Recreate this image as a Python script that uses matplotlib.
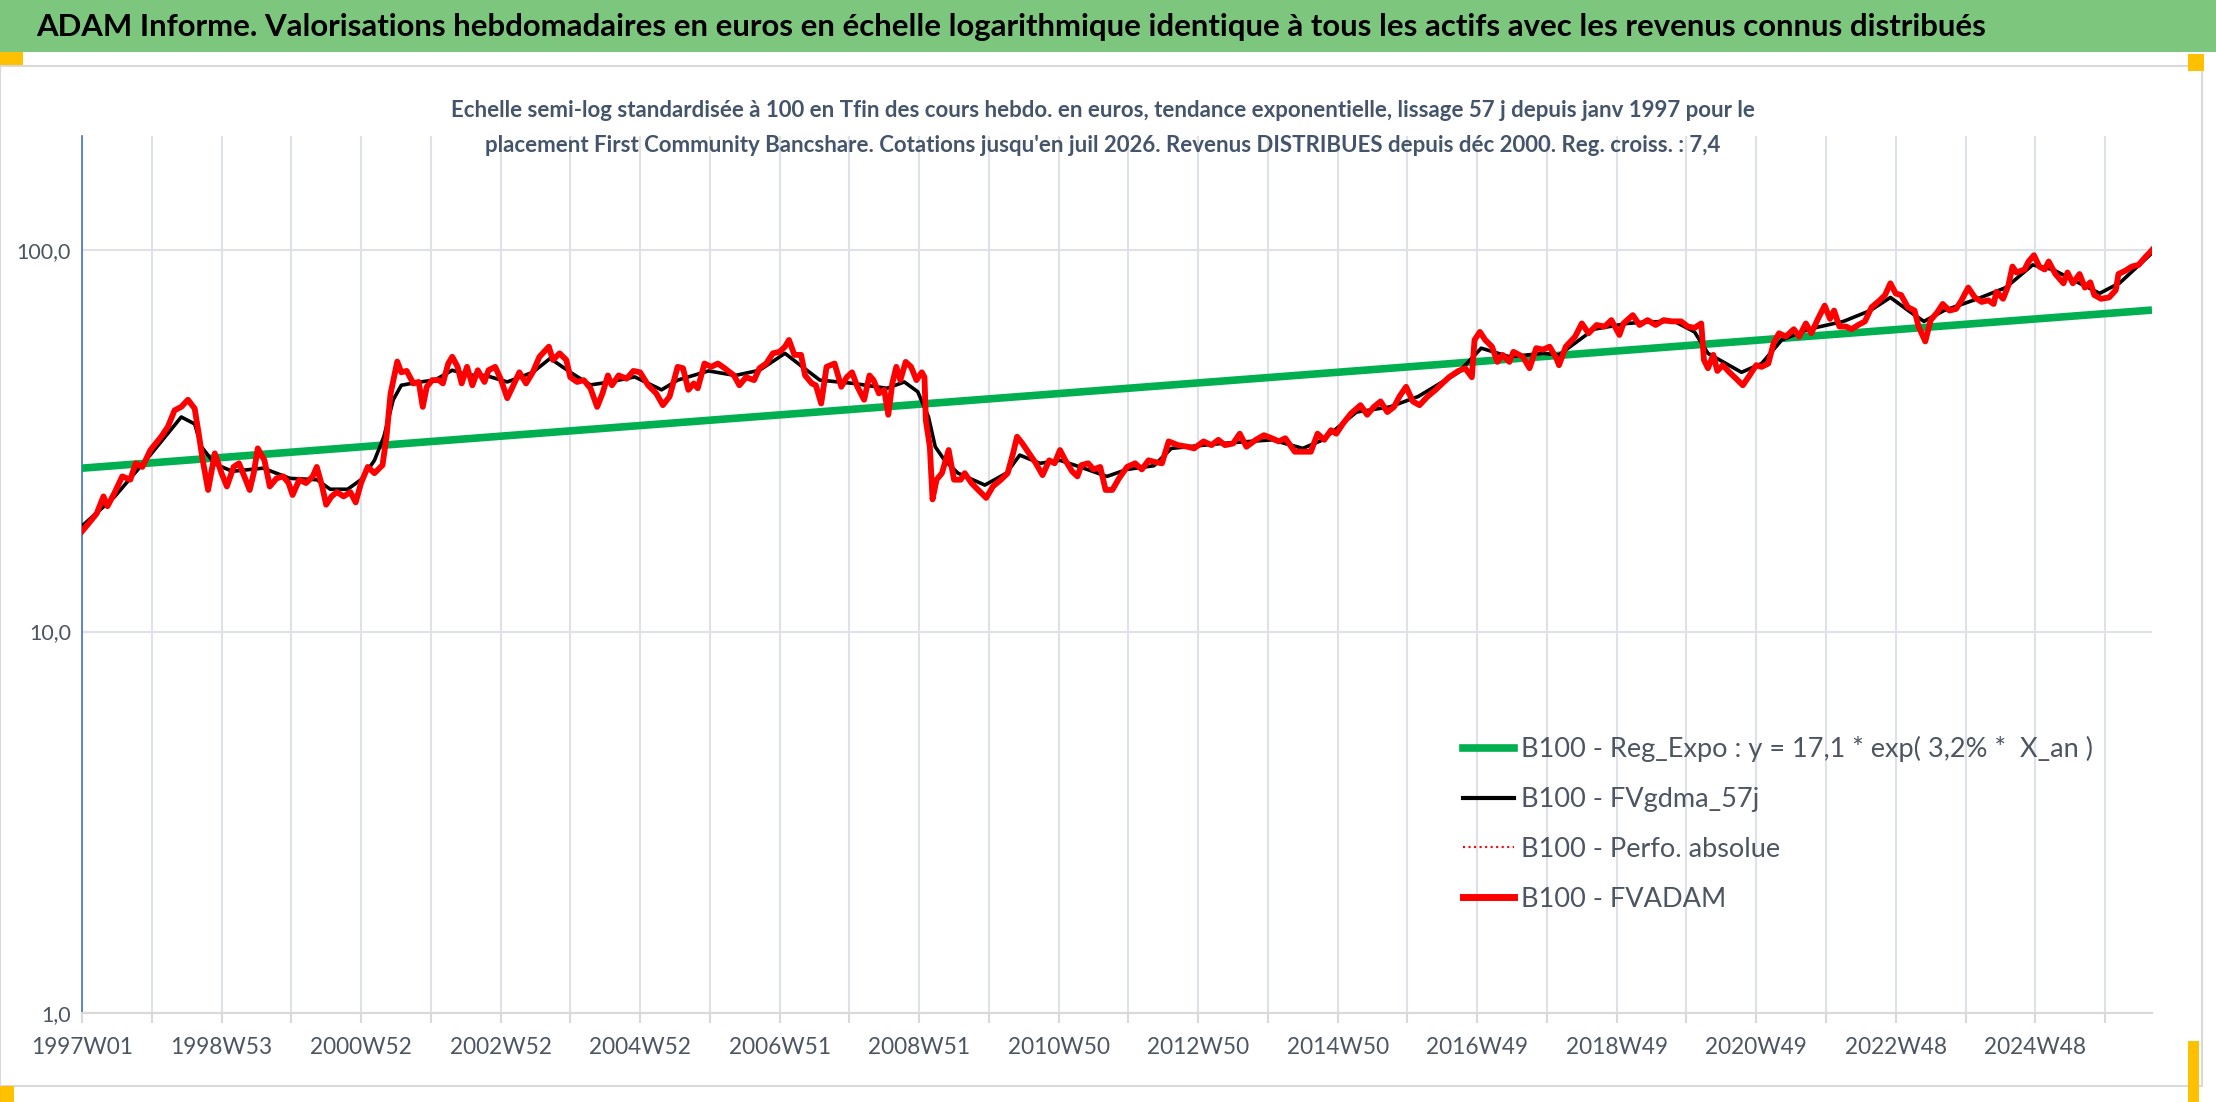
import numpy as np
import pandas as pd
import matplotlib
matplotlib.use('Agg')
import matplotlib.pyplot as plt
from matplotlib.patches import Rectangle
from matplotlib.lines import Line2D

plt.rcParams['font.family'] = ['Lato', 'DejaVu Sans']

################
# Data
################

# weekly categories, 1997W01 .. juil 2026
n_weeks = 1544
weeks = pd.date_range('1996-12-30', periods=n_weeks, freq='7D')

tick_step = 52
tick_labels = ['1997W01', '1998W53', '2000W52', '2002W52', '2004W52', '2006W51',
               '2008W51', '2010W50', '2012W50', '2014W50', '2016W49', '2018W49',
               '2020W49', '2022W48', '2024W48']

# B100 - FVADAM (week index, value)
red_idx = [0, 6, 11, 16, 19, 24, 30, 36, 40, 45, 51, 59, 64, 69, 74, 79, 84, 87, 90, 94,
           99, 104, 108, 113, 117, 121, 125, 128, 131, 136, 140, 145, 150, 154, 157, 162,
           167, 172, 175, 179, 182, 186, 190, 195, 200, 204, 208, 213, 218, 224, 227, 230,
           235, 238, 242, 247, 251, 254, 257, 261, 266, 269, 273, 276, 280, 283, 287, 291,
           295, 300, 303, 308, 312, 317, 321, 326, 331, 336, 341, 348, 351, 356, 361, 364,
           369, 374, 379, 384, 388, 392,
           395, 400, 406, 411, 416, 422, 428, 433, 438, 444, 448, 452, 456, 459, 464, 469,
           474, 479, 486, 490, 495, 501, 505, 510, 515, 520, 524, 527, 531, 536, 539, 544,
           547, 551, 555, 561, 566, 570, 574, 578, 583, 587, 590, 594, 598, 601, 604, 607,
           610, 614, 618, 622, 626, 628, 629, 632, 634, 637, 641, 646, 650, 655, 658, 663,
           668, 674, 679, 685, 690, 694, 697, 701, 706, 711, 716, 721, 725, 729, 733, 738,
           742, 745, 750, 754, 759, 763, 768, 773, 779,
           785, 790, 795, 800, 805, 810, 817, 824, 829, 836, 842, 847, 852, 858, 863, 868,
           875, 881, 887, 892, 897, 904, 910, 916, 921, 926, 931, 935, 940, 946, 953, 958,
           963, 968, 973, 978, 982, 987, 992, 997, 1003, 1009, 1014, 1019, 1026, 1031, 1036,
           1038, 1042, 1046, 1051, 1055, 1059, 1064, 1067, 1074, 1079, 1084, 1089, 1094,
           1099, 1101, 1106, 1113, 1118, 1123, 1129, 1135, 1140, 1146, 1149, 1156, 1161,
           1167, 1173, 1179, 1185, 1192, 1197, 1202, 1207, 1209, 1212, 1216, 1219, 1223,
           1228, 1233, 1238, 1243, 1248, 1252, 1257, 1261, 1265, 1270, 1276, 1280, 1285,
           1289, 1294, 1299, 1303, 1306, 1310, 1315, 1319, 1324, 1329, 1334, 1340, 1344,
           1348, 1352, 1356, 1361, 1366, 1369, 1374, 1378, 1383, 1387, 1392, 1397, 1401,
           1406, 1411, 1416, 1421, 1425, 1427, 1432, 1436, 1439, 1442, 1448, 1451, 1455,
           1459, 1463, 1466, 1471, 1477, 1480, 1484, 1489, 1493, 1497, 1500, 1505, 1511,
           1516, 1518, 1523, 1528, 1533, 1538, 1541, 1543]
red_val = [18.3, 19.4, 20.4, 22.6, 21.3, 23.0, 25.5, 25.0, 27.6, 27.0, 29.9, 32.4, 34.4,
           38.0, 38.8, 40.5, 38.4, 33.0, 28.1, 23.5, 29.3, 26.0, 24.0, 27.0, 27.6, 25.5,
           23.5, 26.0, 30.2, 28.1, 24.0, 25.2, 25.5, 24.5, 22.8, 25.0, 24.5, 25.5, 27.0,
           24.0, 21.5, 22.6, 23.2, 22.6, 23.2, 21.8, 24.5, 27.0, 26.0, 27.3, 32.4, 42.0,
           51.0, 47.8, 48.2, 44.7, 45.1, 38.8, 43.8, 45.6, 45.6, 44.7, 50.4, 52.5, 49.4,
           44.7, 49.4, 44.2, 48.4, 45.1, 48.4, 49.4, 46.0, 40.9, 43.8, 47.8, 44.7, 47.8,
           52.5, 55.8, 51.5, 53.6, 51.5, 46.4, 45.1, 45.6, 43.4, 38.8, 42.1, 46.9,
           44.2, 46.9, 46.0, 48.2, 47.8, 44.2, 42.1, 39.2, 41.3, 49.4, 49.0, 43.0, 44.7,
           43.4, 50.4, 49.4, 50.4, 49.0, 46.9, 44.2, 46.4, 45.6, 49.0, 50.4, 53.6, 54.1,
           55.8, 58.1, 53.1, 53.1, 46.9, 44.7, 44.2, 39.6, 49.4, 50.4, 43.8, 46.4, 47.8,
           43.8, 40.5, 46.9, 45.6, 42.1, 43.0, 37.0, 44.7, 49.4, 45.6, 50.9, 49.4, 45.6,
           47.8, 46.4, 35.8, 30.5, 22.2, 25.0, 26.0, 29.9, 25.0, 25.0, 26.0, 24.5, 23.5,
           22.4, 24.0, 25.0, 26.0, 29.3, 32.4, 31.1, 29.3, 27.6, 25.7, 28.1, 27.6, 29.9,
           28.1, 26.3, 25.5, 27.3, 27.6, 26.6, 27.0, 23.5, 23.5, 25.2, 27.0,
           27.6, 26.6, 28.1, 27.8, 27.6, 31.5, 30.8, 30.5, 30.2, 31.5, 30.8, 31.8, 30.8,
           31.1, 33.0, 30.5, 31.8, 32.7, 32.1, 31.5, 32.1, 29.6, 29.6, 29.6, 33.0, 31.8,
           33.7, 33.0, 35.1, 37.3, 39.2, 37.0, 38.8, 40.1, 37.6, 38.8, 41.3, 43.8, 40.1,
           39.2, 41.3, 43.0, 44.7, 46.4, 48.2, 49.0, 46.4, 58.1, 61.0, 58.1, 55.8, 50.9,
           53.1, 50.9, 54.1, 52.5, 49.0, 55.3, 54.8, 55.8, 52.0, 49.9, 55.8, 59.3, 64.2,
           60.5, 63.6, 63.0, 65.5, 59.9, 64.2, 67.5, 63.6,
           65.5, 63.6, 65.5, 65.0, 65.0, 63.0, 62.5, 64.2, 51.5, 49.0, 53.1, 48.2, 49.9,
           47.8, 46.0, 44.2, 46.9, 49.9, 49.4, 50.4, 57.1, 60.5, 59.3, 62.0, 59.3, 64.2,
           60.5, 66.0, 71.5, 66.0, 69.4, 63.0, 63.0, 62.0, 63.6, 65.0, 70.8, 73.8, 76.2,
           81.8, 76.9, 76.2, 70.8, 69.4, 63.0, 57.6, 65.5, 68.7, 72.2, 69.4, 70.1, 73.8,
           79.7, 75.1, 73.1, 73.8, 72.2, 77.7, 74.5, 80.9, 90.5, 87.3, 88.9, 93.3, 96.9,
           90.5, 88.9, 93.3, 86.5, 81.8, 87.3, 81.8, 86.5, 79.7, 82.3, 76.2, 74.5, 75.1,
           78.5, 86.5, 88.2, 90.5, 91.4, 95.8, 98.2, 100.0]

# B100 - FVgdma_57j (smoothed line, week index, value)
black_idx = [0, 24, 49, 74, 84, 89, 99, 112, 135, 155, 175, 185, 198, 208, 218, 225, 232,
             238, 250, 263, 276, 288, 301, 317, 336, 349, 364, 379, 392, 412, 432, 444,
             467, 487, 505, 524, 537, 550, 575, 600, 613, 623, 631, 636, 643, 653, 673,
             689, 699, 714, 729, 744, 764, 779, 799, 812, 849, 887, 910, 925, 950, 975,
             996, 1026, 1043, 1064, 1089, 1101, 1127, 1152, 1167, 1187, 1202, 1212, 1237,
             1252, 1267, 1287, 1313, 1333, 1348, 1363, 1373, 1388, 1413, 1434, 1454, 1469,
             1489, 1504, 1519, 1543]
black_val = [18.9, 22.5, 28.5, 36.5, 35.0, 30.5, 27.5, 26.3, 26.8, 25.2, 25.0, 23.6, 23.6,
             25.0, 28.1, 32.4, 40.5, 44.2, 45.0, 45.6, 48.4, 47.0, 46.9, 45.1, 47.8, 52.0,
             47.8, 44.3, 45.0, 46.5, 43.0, 45.6, 48.2, 46.9, 48.4, 53.6, 49.4, 45.6, 44.7,
             43.4, 45.1, 42.5, 36.5, 30.5, 28.1, 26.0, 24.2, 26.0, 29.0, 27.6, 28.1, 27.0,
             25.5, 26.6, 27.2, 30.2, 31.1, 31.8, 30.2, 31.8, 37.6, 38.8, 41.3, 47.8, 55.3,
             52.5, 53.6, 53.1, 62.0, 64.2, 64.8, 65.0, 61.0, 53.6, 47.8, 50.4, 58.1, 62.0,
             65.0, 69.4, 75.1, 68.7, 65.0, 69.4, 74.5, 79.7, 91.4, 88.9, 81.8, 77.0, 82.0,
             98.2]

# B100 - Reg_Expo : straight line on the log scale, two ends
green_idx = [0, n_weeks - 1]
green_val = [26.8, 69.6]

title = ("ADAM Informe. Valorisations hebdomadaires en euros en échelle logarithmique "
         "identique à tous les actifs avec les revenus connus distribués")
subtitle = ("Echelle semi-log standardisée à 100 en Tfin des cours hebdo. en euros, tendance "
            "exponentielle, lissage 57 j depuis janv 1997 pour le\nplacement First Community "
            "Bancshare. Cotations jusqu'en juil 2026. Revenus DISTRIBUES depuis déc 2000. "
            "Reg. croiss. : 7,4")
legend_labels = ['B100 - Reg_Expo : y = 17,1 * exp( 3,2% *  X_an )',
                 'B100 - FVgdma_57j',
                 'B100 - Perfo. absolue',
                 'B100 - FVADAM']

################
# Figure
################
W, H = 2216, 1102
fig = plt.figure(figsize=(W / 100, H / 100), dpi=100)

# green title band
fig.add_artist(Rectangle((0, 1 - 52 / H), 1, 52 / H, transform=fig.transFigure,
                         facecolor='#7DC67D', edgecolor='none', zorder=0))
fig.text(36 / W, 1 - 27 / H, title, ha='left', va='center', fontsize=22.4,
         fontweight='bold', color='black')

# chart frame
fig.add_artist(Rectangle((0, 1 - 1086 / H), 2202 / W, (1086 - 66) / H,
                         transform=fig.transFigure, facecolor='none',
                         edgecolor='#D9D9D9', lw=1.5, zorder=1))
# selection handles
for (x0, y0, x1, y1) in [(0, 52, 23, 65), (2188, 54, 2204, 71),
                         (0, 1086, 14, 1102), (2188, 1041, 2199, 1102)]:
    fig.add_artist(Rectangle((x0 / W, 1 - y1 / H), (x1 - x0) / W, (y1 - y0) / H,
                             transform=fig.transFigure, facecolor='#FFC000',
                             edgecolor='none', zorder=2))

fig.text(1103 / W, 1 - 128 / H, subtitle, ha='center', va='center', fontsize=16,
         fontweight='bold', color='#44546A', linespacing=1.8)

ax = fig.add_axes([82 / W, 1 - 1013 / H, (2152 - 82) / W, (1013 - 136) / H])
ax.set_yscale('log')
ax.set_ylim(1, 199)
ax.set_xlim(0, n_weeks - 1)

ax.plot(green_idx, green_val, color='#00B050', lw=5.5, solid_capstyle='butt', zorder=3)
ax.plot(black_idx, black_val, color='black', lw=2.6, zorder=4)
ax.plot([], [], color='red', lw=1.5, ls=':', zorder=5)
ax.plot(red_idx, red_val, color='#FF0000', lw=4.2, solid_joinstyle='round', zorder=6)

# axes look (Excel style)
for s in ['top', 'right']:
    ax.spines[s].set_visible(False)
ax.spines['left'].set_color('#4472C4')
ax.spines['left'].set_linewidth(1.2)
ax.spines['bottom'].set_color('#D9D9D9')
ax.spines['bottom'].set_linewidth(1.5)

ax.set_yticks([1, 10, 100])
ax.set_yticklabels(['1,0', '10,0', '100,0'])
ax.yaxis.set_minor_locator(matplotlib.ticker.NullLocator())
ax.tick_params(axis='y', length=0, pad=8, labelsize=15.5, labelcolor='#4D5562')

xticks = list(range(0, n_weeks, tick_step))
xlabels = [tick_labels[k // 2] if k % 2 == 0 else '' for k in range(len(xticks))]
ax.set_xticks(xticks)
ax.set_xticklabels(xlabels)
ax.tick_params(axis='x', length=7, width=1.5, color='#D9D9D9', pad=10,
               labelsize=16.3, labelcolor='#4D5562')

ax.grid(True, which='major', color='#DEE2E8', lw=1.5)
ax.set_axisbelow(True)

handles = [Line2D([], [], color='#00B050', lw=5.5),
           Line2D([], [], color='black', lw=3),
           Line2D([], [], color='red', lw=1.5, ls=':'),
           Line2D([], [], color='#FF0000', lw=5)]
leg = fig.legend(handles, legend_labels, loc='upper left',
                 bbox_to_anchor=(1463 / W, 1 - 736 / H), bbox_transform=fig.transFigure,
                 frameon=False, fontsize=19.5, handlelength=1.9, handletextpad=0.25,
                 labelspacing=0.92, borderpad=0, borderaxespad=0)
for t in leg.get_texts():
    t.set_color('#4D5562')

fig.savefig('out.png', dpi=100)
